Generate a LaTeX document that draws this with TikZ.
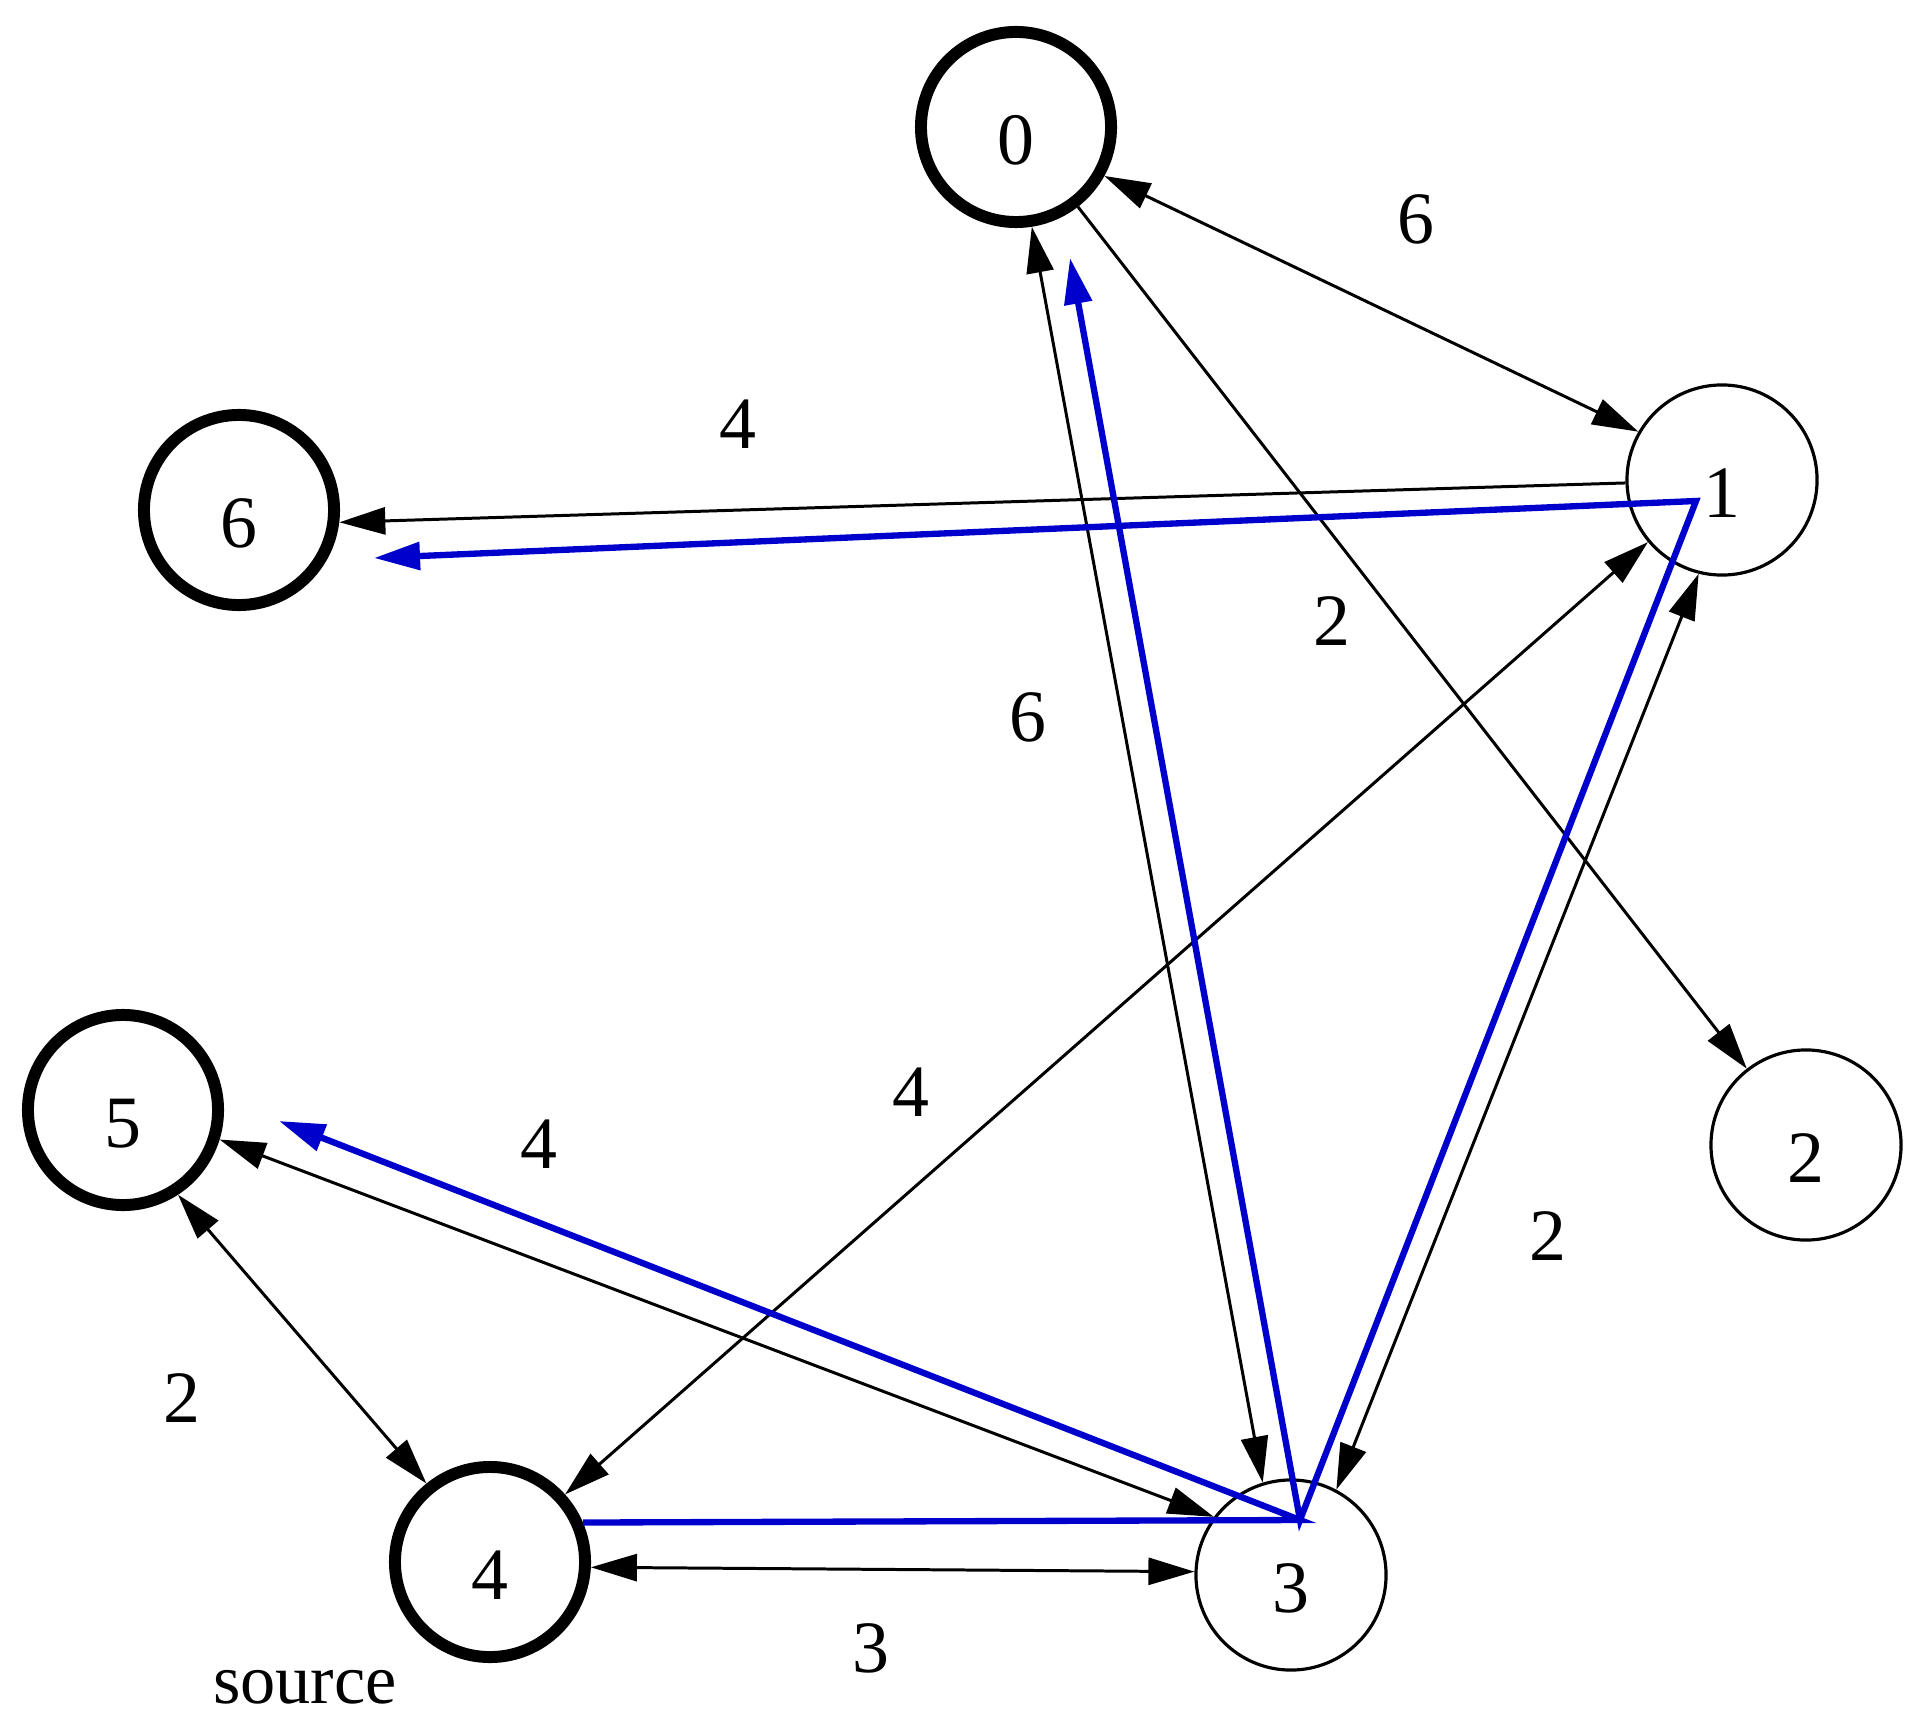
\documentclass[tikz,border=0pt]{standalone}
\usepackage{fontspec}
\setmainfont{Liberation Serif}
\usetikzlibrary{arrows.meta}
\definecolor{treeblue}{RGB}{0,0,204}

\begin{document}
\begin{tikzpicture}[x=0.01cm, y=-0.01cm,
        >={Triangle[length=0.46cm,width=0.27cm]},
        vertex/.style={circle, draw, line width=0.9pt, minimum size=1.9cm, inner sep=0pt, text height=0.74cm, text depth=0cm, font=\fontsize{21}{25}\selectfont},
        visited/.style={vertex, line width=3.4pt},
        weight/.style={font=\fontsize{21}{25}\selectfont},
        edge/.style={line width=0.85pt},
        tree/.style={line width=1.8pt, draw=treeblue}]

        \useasboundingbox (0,0) rectangle (1928,1731);

        \node[visited] (n0) at (1016,127) {0};
        \node[vertex] (n1) at (1722,480) {1};
        \node[vertex] (n2) at (1806,1145) {2};
        \node[vertex] (n3) at (1291,1575) {3};
        \node[visited] (n4) at (490,1562) {4};
        \node[visited] (n5) at (123,1110) {5};
        \node[visited] (n6) at (239,510) {6};

        \node[weight, font=\fontsize{20}{24}\selectfont] (src) at (305,1687) {source};

        \coordinate (t0) at (1070,258);
        \coordinate (t1) at (1696,501);
        \coordinate (t3) at (1300,1520);
        \coordinate (t5) at (279,1121);
        \coordinate (t6) at (374,558);

        \draw[edge, <->] (n0.-29) -- (n1.150);
        \draw[edge, ->] (n0) -- (n2);
        \draw[edge, ->] (n1) -- (n6.-7);
        \draw[edge, <->] (n0.279) -- (n3.107);
        \draw[edge, <->] (n1.220) -- (n4.42);
        \draw[edge, <->] (n1.256) -- (n3.62);
        \draw[edge, <->] (n5.-17) -- (n3.143);
        \draw[edge, <->] (n5.-57) -- (n4.129);
        \draw[edge, <->] (n4.-3) -- (n3.178);

        \draw[tree, ->] (n4.23) -- (t3) -- (t5);
        \draw[tree, <->] (t0) -- (t3) -- (t1) -- (t6);

        \node[weight] (w01) at (1416,219) {6};
        \node[weight] (w02) at (1332,621) {2};
        \node[weight] (w16) at (738,424) {4};
        \node[weight] (w03) at (1028,717) {6};
        \node[weight] (w14) at (911,1092) {4};
        \node[weight] (w13) at (1548,1236) {2};
        \node[weight] (w53) at (539,1144) {4};
        \node[weight] (w54) at (182,1398) {2};
        \node[weight] (w43) at (871,1648) {3};

        \end{tikzpicture}
\end{document}
